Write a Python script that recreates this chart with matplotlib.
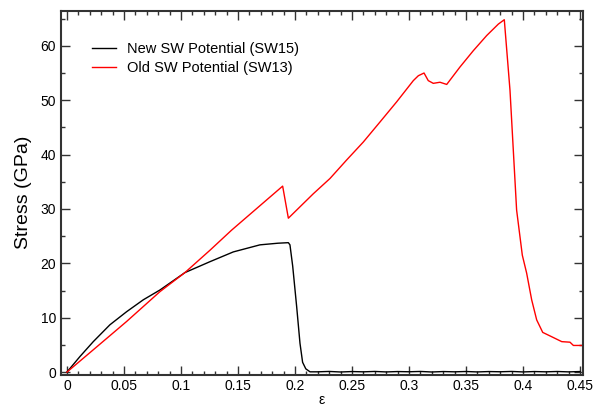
import matplotlib
matplotlib.use('Agg')
import matplotlib.pyplot as plt
from matplotlib.ticker import MultipleLocator

plt.rcParams['font.family'] = ['Liberation Sans', 'DejaVu Sans']

# strain / stress
sw15_strain = [0, 0.0114, 0.0231, 0.0377, 0.0523, 0.067, 0.0816, 0.1035, 0.1254, 0.1459,
               0.1693, 0.185, 0.1942, 0.1956, 0.198, 0.2015, 0.2044, 0.2067, 0.2095, 0.2132,
               0.22, 0.23, 0.24, 0.25, 0.26, 0.27, 0.28, 0.29, 0.30, 0.31, 0.32, 0.33,
               0.34, 0.35, 0.36, 0.37, 0.38, 0.39, 0.40, 0.41, 0.42, 0.43, 0.44, 0.45]
sw15_stress = [0, 2.86, 5.6, 8.7, 11.1, 13.3, 15.1, 18.3, 20.3, 22.1,
               23.4, 23.7, 23.8, 23.4, 19.5, 12.0, 5.3, 1.8, 0.6, 0.05,
               0.05, 0.12, 0.02, 0.1, 0.05, 0.12, 0.03, 0.1, 0.06, 0.12, 0.02, 0.1,
               0.05, 0.11, 0.03, 0.1, 0.06, 0.12, 0.03, 0.1, 0.05, 0.11, 0.04, 0.1]

sw13_strain = [0, 0.0231, 0.0523, 0.0816, 0.1035, 0.1254, 0.1444, 0.1892, 0.1942,
               0.2161, 0.2307, 0.2453, 0.2599, 0.2746, 0.2892, 0.3038, 0.3082, 0.3132,
               0.3169, 0.3213, 0.3272, 0.3331, 0.3447, 0.3564, 0.3682, 0.3784, 0.3836,
               0.3886, 0.3944, 0.3994, 0.4032, 0.4076, 0.412, 0.4173, 0.4252, 0.434,
               0.4412, 0.4442, 0.4535]
sw13_stress = [0, 4.1, 9.3, 14.8, 18.3, 22.4, 26.1, 34.2, 28.3,
               32.8, 35.6, 39.0, 42.3, 46.0, 49.7, 53.6, 54.5, 55.0,
               53.6, 53.1, 53.3, 52.9, 56.1, 59.1, 61.9, 64.0, 64.8,
               51.8, 29.8, 21.5, 18.2, 13.3, 9.6, 7.3, 6.5, 5.6,
               5.5, 4.9, 4.9]

labels = ['New SW Potential (SW15)', 'Old SW Potential (SW13)']

fig = plt.figure(figsize=(5.97, 4.08), dpi=100)
ax = fig.add_axes([0.102, 0.082, 0.8745, 0.891])

ax.plot(sw15_strain, sw15_stress, color='black', lw=1.0, label=labels[0])
ax.plot(sw13_strain, sw13_stress, color='red', lw=1.0, label=labels[1])

ax.set_xlim(-0.0053, 0.4526)
ax.set_ylim(-0.45, 66.4)
ax.xaxis.set_minor_locator(MultipleLocator(0.01))
ax.yaxis.set_major_locator(MultipleLocator(10))
ax.yaxis.set_minor_locator(MultipleLocator(5))
ax.set_xticks([0, 0.05, 0.1, 0.15, 0.2, 0.25, 0.3, 0.35, 0.4, 0.45])
ax.set_xticklabels(['0', '0.05', '0.1', '0.15', '0.2', '0.25', '0.3', '0.35', '0.4', '0.45'])

ax.tick_params(which='both', direction='in', top=True, right=True, labelsize=10, width=1, color='#333333')
ax.tick_params(which='major', length=6.5)
ax.tick_params(which='minor', length=3)
for s in ax.spines.values():
    s.set_linewidth(1.5)
    s.set_color('#333333')

ax.set_xlabel('ε', fontsize=10, labelpad=0)
ax.set_ylabel('Stress (GPa)', fontsize=14, labelpad=6)

ax.legend(loc='upper left', bbox_to_anchor=(0.035, 0.95), frameon=False, fontsize=10.5,
          handlelength=1.6, handletextpad=0.8, labelspacing=0.3)

fig.savefig('out.png', dpi=100)
